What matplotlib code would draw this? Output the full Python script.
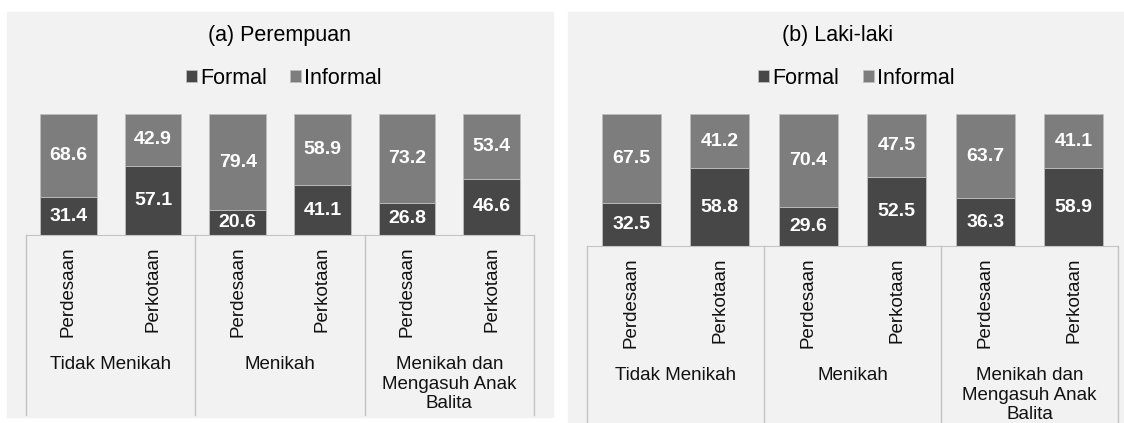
import matplotlib
matplotlib.use('Agg')
import matplotlib.pyplot as plt
from matplotlib.patches import Rectangle

plt.rcParams['font.family'] = ['Liberation Sans', 'DejaVu Sans']

# data
kategori = ['Perdesaan', 'Perkotaan'] * 3
kelompok = ['Tidak Menikah', 'Menikah', 'Menikah dan\nMengasuh Anak\nBalita']
perempuan_formal = [31.4, 57.1, 20.6, 41.1, 26.8, 46.6]
perempuan_informal = [68.6, 42.9, 79.4, 58.9, 73.2, 53.4]
laki_formal = [32.5, 58.8, 29.6, 52.5, 36.3, 58.9]
laki_informal = [67.5, 41.2, 70.4, 47.5, 63.7, 41.1]

W, H = 1124, 423
BG = '#f2f2f2'
C_FORMAL = '#474747'
C_INFORMAL = '#7d7d7d'
C_LINE = '#c4c4c4'


def px(x0, y0, x1, y1):
    # pixel box -> figure fraction [left, bottom, width, height]
    return [x0 / W, 1 - y1 / H, (x1 - x0) / W, (y1 - y0) / H]


def panel(fig, box, bgbox, judul, judul_x, formal, informal, bawah):
    ax = fig.add_axes(px(*box))
    axh = box[3] - box[1]
    fig.patches.append(Rectangle((bgbox[0] / W, 1 - bgbox[3] / H),
                                 (bgbox[2] - bgbox[0]) / W, (bgbox[3] - bgbox[1]) / H,
                                 transform=fig.transFigure, color=BG, zorder=-10))
    ax.set_facecolor('none')
    x = range(len(kategori))
    b1 = ax.bar(x, formal, width=0.67, color=C_FORMAL, edgecolor='#bdbdbd',
                linewidth=0.6, label='Formal')
    b2 = ax.bar(x, informal, width=0.67, bottom=formal, color=C_INFORMAL,
                edgecolor='#bdbdbd', linewidth=0.6, label='Informal')
    for c in (b1, b2):
        ax.bar_label(c, fmt='%.1f', label_type='center', color='white',
                     fontsize=14, fontweight='bold')
    ax.set_xlim(-0.5, 5.5)
    ax.set_ylim(0, 100)
    ax.set_yticks([])
    for s in ['top', 'left', 'right']:
        ax.spines[s].set_visible(False)
    ax.spines['bottom'].set_color(C_LINE)
    ax.set_xticks(list(x))
    ax.set_xticklabels(kategori, rotation=90, fontsize=13.5, color='#111111')
    ax.tick_params(axis='x', length=0, pad=8)

    # garis pemisah kelompok
    tr = ax.get_xaxis_transform()
    for g in [-0.5, 1.5, 3.5, 5.5]:
        ax.plot([g, g], [0, -bawah / axh], transform=tr, color=C_LINE,
                lw=1, clip_on=False)
    for i, nama in enumerate(kelompok):
        ax.annotate(nama, xy=(2 * i + 0.5, 0), xycoords=tr,
                    xytext=(0, -121), textcoords='offset pixels',
                    ha='center', va='top', fontsize=13.5, color='#111111',
                    linespacing=1.2)

    cx = (box[0] + box[2]) / 2 / W
    fig.text(judul_x / W, 1 - 36 / H, judul, ha='center', va='center', fontsize=15.5)
    ax.legend(handles=[b1, b2], loc='center', ncol=2, frameon=False,
              bbox_to_anchor=(cx + 4 / W, 1 - 78 / H), bbox_transform=fig.transFigure,
              fontsize=15.5, handlelength=0.5, handleheight=0.5,
              handletextpad=0.15, columnspacing=1.1, borderpad=0)
    return ax


fig = plt.figure(figsize=(W / 100, H / 100), dpi=100)
fig.patch.set_facecolor('white')

panel(fig, (26, 114, 534, 235), (7, 12, 553, 417), '(a) Perempuan', 279,
      perempuan_formal, perempuan_informal, 180)
panel(fig, (587, 114, 1118, 246), (568, 12, 1124, 423), '(b) Laki-laki', 838,
      laki_formal, laki_informal, 180)

fig.savefig('out.png', dpi=100)
